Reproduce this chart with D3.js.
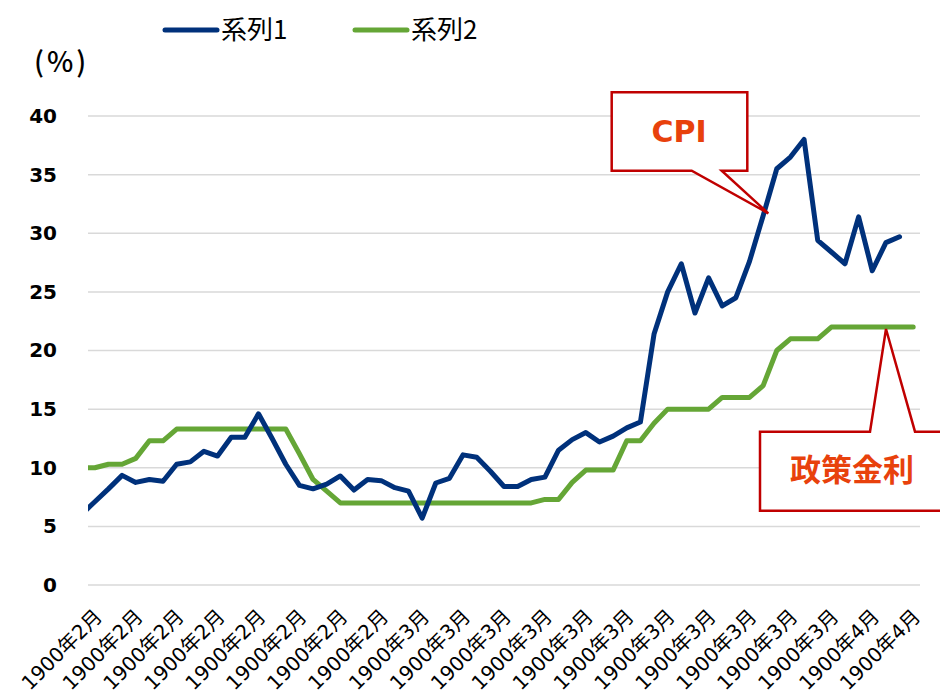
<!DOCTYPE html>
<html>
<head>
<meta charset="utf-8">
<script src="https://cdn.jsdelivr.net/npm/d3@7"></script>
<style>
  body { margin: 0; background: #fff; }
</style>
</head>
<body>
<div id="content"></div>
<script>
// DATA (first value of each series sits left of the plot and is clipped)
var xLabels = [
  "1900年2月", "1900年2月", "1900年2月", "1900年2月", "1900年2月", "1900年2月", "1900年2月",
  "1900年2月", "1900年3月", "1900年3月", "1900年3月", "1900年3月", "1900年3月", "1900年3月",
  "1900年3月", "1900年3月", "1900年3月", "1900年3月", "1900年3月", "1900年4月", "1900年4月"
];
var series1 = [
  6.0, 7.1, 8.2, 9.35, 8.75, 9.0, 8.85, 10.3, 10.5, 11.4, 11.0,
  12.6, 12.6, 14.6, 12.5, 10.3, 8.5, 8.2, 8.6, 9.3, 8.1,
  9.0, 8.9, 8.3, 8.0, 5.7, 8.7, 9.1, 11.1, 10.9, 9.7,
  8.4, 8.4, 9.0, 9.2, 11.5, 12.4, 13.0, 12.2, 12.7, 13.4,
  13.9, 21.4, 25.0, 27.4, 23.2, 26.2, 23.8, 24.5, 27.6, 31.5,
  35.5, 36.5, 38.0, 29.4, 28.4, 27.4, 31.4, 26.8, 29.2, 29.7
];
var series2 = [
  10.0, 10.0, 10.3, 10.3, 10.8, 12.3, 12.3, 13.3, 13.3, 13.3, 13.3,
  13.3, 13.3, 13.3, 13.3, 13.3, 11.2, 9.0, 8.0, 7.0, 7.0,
  7.0, 7.0, 7.0, 7.0, 7.0, 7.0, 7.0, 7.0, 7.0, 7.0,
  7.0, 7.0, 7.0, 7.3, 7.3, 8.75, 9.8, 9.8, 9.8, 12.3,
  12.3, 13.8, 15.0, 15.0, 15.0, 15.0, 16.0, 16.0, 16.0, 17.0,
  20.0, 21.0, 21.0, 21.0, 22.0, 22.0, 22.0, 22.0, 22.0, 22.0, 22.0
];
var seriesNames = ["系列1", "系列2"];
var yTicks = [0, 5, 10, 15, 20, 25, 30, 35, 40];

// GLOBAL CONFIGS
var w = 940;
var h = 697;
var plotLeft = 88;
var plotRight = 920;
var plotTop = 116;
var plotBottom = 585;
var nCats = 61;
var labelEvery = 3;
var colors = {
  "blue": "#00317B",
  "green": "#65A636",
  "grid": "#D9D9D9",
  "red": "#C00000",
  "orange": "#E8410C"
};
var fontJP = "'Noto Sans CJK JP', sans-serif";
var fontNum = "'DejaVu Sans', 'Noto Sans CJK JP', sans-serif";

var svg = d3.select("#content")
  .append("svg")
  .attr("width", w)
  .attr("height", h);

// Scales: one slot per month, points in the middle of the slot
var x = d3.scaleLinear()
  .domain([-0.5, nCats - 0.5])
  .range([plotLeft, plotRight]);
var y = d3.scaleLinear()
  .domain([0, 40])
  .range([plotBottom, plotTop]);

// Gridlines
svg.selectAll("line.grid")
  .data(yTicks)
  .enter()
  .append("line")
  .attr("class", "grid")
  .attr("x1", plotLeft)
  .attr("x2", plotRight)
  .attr("y1", function(d) { return y(d); })
  .attr("y2", function(d) { return y(d); })
  .attr("stroke", colors.grid)
  .attr("stroke-width", 1.5);

// Y axis labels
var yAxis = d3.axisLeft(y).tickValues(yTicks).tickSize(0).tickPadding(0);
var gy = svg.append("g")
  .attr("transform", "translate(57,0)")
  .call(yAxis);
gy.select(".domain").remove();
gy.selectAll("text")
  .attr("font-family", fontNum)
  .attr("font-size", 20)
  .attr("font-weight", "bold")
  .attr("fill", "#000");

// X axis labels (every third month, rotated)
var xAxis = d3.axisBottom(x)
  .tickValues(d3.range(0, nCats, labelEvery))
  .tickFormat(function(d, i) { return xLabels[i]; })
  .tickSize(0)
  .tickPadding(0);
var gx = svg.append("g")
  .attr("transform", "translate(0," + (plotBottom + 28) + ")")
  .call(xAxis);
gx.select(".domain").remove();
gx.selectAll("text")
  .attr("font-family", fontNum)
  .attr("font-size", 20)
  .attr("fill", "#000")
  .attr("text-anchor", "end")
  .attr("dy", "0.35em")
  .attr("transform", "translate(3,0) rotate(-45)");

// Plot clip
svg.append("clipPath")
  .attr("id", "plotClip")
  .append("rect")
  .attr("x", plotLeft)
  .attr("y", 0)
  .attr("width", plotRight - plotLeft)
  .attr("height", h);

var line = d3.line()
  .x(function(d, i) { return x(i - 1); })
  .y(function(d) { return y(d); });

var plot = svg.append("g").attr("clip-path", "url(#plotClip)");
[[series2, colors.green], [series1, colors.blue]].forEach(function(s) {
  plot.append("path")
    .datum(s[0])
    .attr("d", line)
    .attr("fill", "none")
    .attr("stroke", s[1])
    .attr("stroke-width", 5)
    .attr("stroke-linejoin", "round")
    .attr("stroke-linecap", "round");
});

// Legend
var legend = svg.selectAll("g.legend")
  .data(seriesNames)
  .enter()
  .append("g")
  .attr("class", "legend")
  .attr("transform", function(d, i) { return "translate(" + (165 + i * 190) + ",30)"; });
legend.append("line")
  .attr("x1", 0)
  .attr("x2", 52)
  .attr("stroke", function(d, i) { return i == 0 ? colors.blue : colors.green; })
  .attr("stroke-width", 5)
  .attr("stroke-linecap", "round");
legend.append("text")
  .text(function(d) { return d; })
  .attr("x", 56)
  .attr("dy", "0.35em")
  .attr("font-family", fontJP)
  .attr("font-size", 26)
  .attr("fill", "#000");

// Unit label
svg.append("text")
  .text("(%)")
  .attr("x", 34)
  .attr("y", 72)
  .attr("font-family", fontJP)
  .attr("font-size", 28)
  .attr("font-weight", 500)
  .attr("letter-spacing", 3)
  .attr("fill", "#000");

// Callouts
var callouts = [
  {
    "text": "CPI",
    "font": fontNum,
    "size": 30,
    "tx": 679, "ty": 131,
    "path": "M691.7,170.7 L611.7,170.7 L611.7,92.3 L747.3,92.3 L747.3,170.7 L721.7,170.7 L768.3,213.3 Z"
  },
  {
    "text": "政策金利",
    "font": fontJP,
    "size": 31,
    "tx": 852, "ty": 470,
    "path": "M870,431.7 L760,431.7 L760,510.7 L950,510.7 L950,431.7 L915,431.7 L886,329 Z"
  }
];
var cg = svg.selectAll("g.callout")
  .data(callouts)
  .enter()
  .append("g")
  .attr("class", "callout");
cg.append("path")
  .attr("d", function(d) { return d.path; })
  .attr("fill", "#fff")
  .attr("stroke", colors.red)
  .attr("stroke-width", 2.5)
  .attr("stroke-linejoin", "miter");
cg.append("text")
  .text(function(d) { return d.text; })
  .attr("x", function(d) { return d.tx; })
  .attr("y", function(d) { return d.ty; })
  .attr("dy", "0.35em")
  .attr("text-anchor", "middle")
  .attr("font-family", function(d) { return d.font; })
  .attr("font-size", function(d) { return d.size; })
  .attr("font-weight", "bold")
  .attr("fill", colors.orange);
</script>
</body>
</html>
